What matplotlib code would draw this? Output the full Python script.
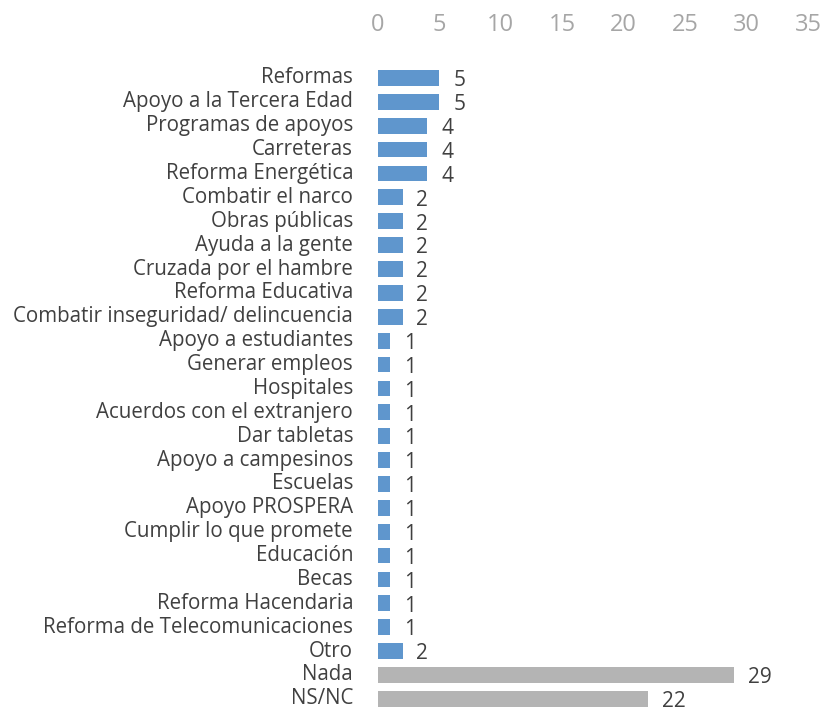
import matplotlib.pyplot as plt
from matplotlib import font_manager

categories = [
    "Reformas", "Apoyo a la Tercera Edad", "Programas de apoyos", "Carreteras",
    "Reforma Energética", "Combatir el narco", "Obras públicas", "Ayuda a la gente",
    "Cruzada por el hambre", "Reforma Educativa", "Combatir inseguridad/ delincuencia",
    "Apoyo a estudiantes", "Generar empleos", "Hospitales", "Acuerdos con el extranjero",
    "Dar tabletas", "Apoyo a campesinos", "Escuelas", "Apoyo PROSPERA",
    "Cumplir lo que promete", "Educación", "Becas", "Reforma Hacendaria",
    "Reforma de Telecomunicaciones", "Otro", "Nada", "NS/NC",
]
values = [5, 5, 4, 4, 4, 2, 2, 2, 2, 2, 2, 1, 1, 1, 1, 1, 1, 1, 1, 1, 1, 1, 1, 1, 2, 29, 22]
grey_items = ["Nada", "NS/NC"]

names = {f.name for f in font_manager.fontManager.ttflist}
fam = "Liberation Sans Narrow" if "Liberation Sans Narrow" in names else "Open Sans"
plt.rcParams['font.family'] = [fam, 'DejaVu Sans']

colors = ['#b4b4b4' if c in grey_items else '#5f96cd' for c in categories]

fig = plt.figure(figsize=(8.22, 7.12), dpi=100)
ax = fig.add_axes([378 / 822, 0.0, 430 / 822, 1 - 45 / 712])
y = list(range(len(categories)))
ax.barh(y, values, height=0.66, color=colors)
ax.set_xlim(0, 35)
ax.set_ylim(26.55, -1.38)
ax.xaxis.tick_top()
ax.set_xticks(range(0, 36, 5))
ax.tick_params(axis='x', length=0, labelsize=17, labelcolor='#a6a6a6', pad=6)
ax.set_yticks(y)
ax.set_yticklabels(categories)
ax.tick_params(axis='y', length=0, labelsize=14.8, labelcolor='#404040', pad=18)
for lbl in ax.get_yticklabels():
    lbl.set_verticalalignment('center')
for s in ax.spines.values():
    s.set_visible(False)

for yi, v in zip(y, values):
    ax.annotate(str(v), (v, yi), xytext=(10, -2), textcoords='offset points',
                ha='left', va='center', fontsize=15, color='#404040')

fig.savefig('out.png', dpi=100)
